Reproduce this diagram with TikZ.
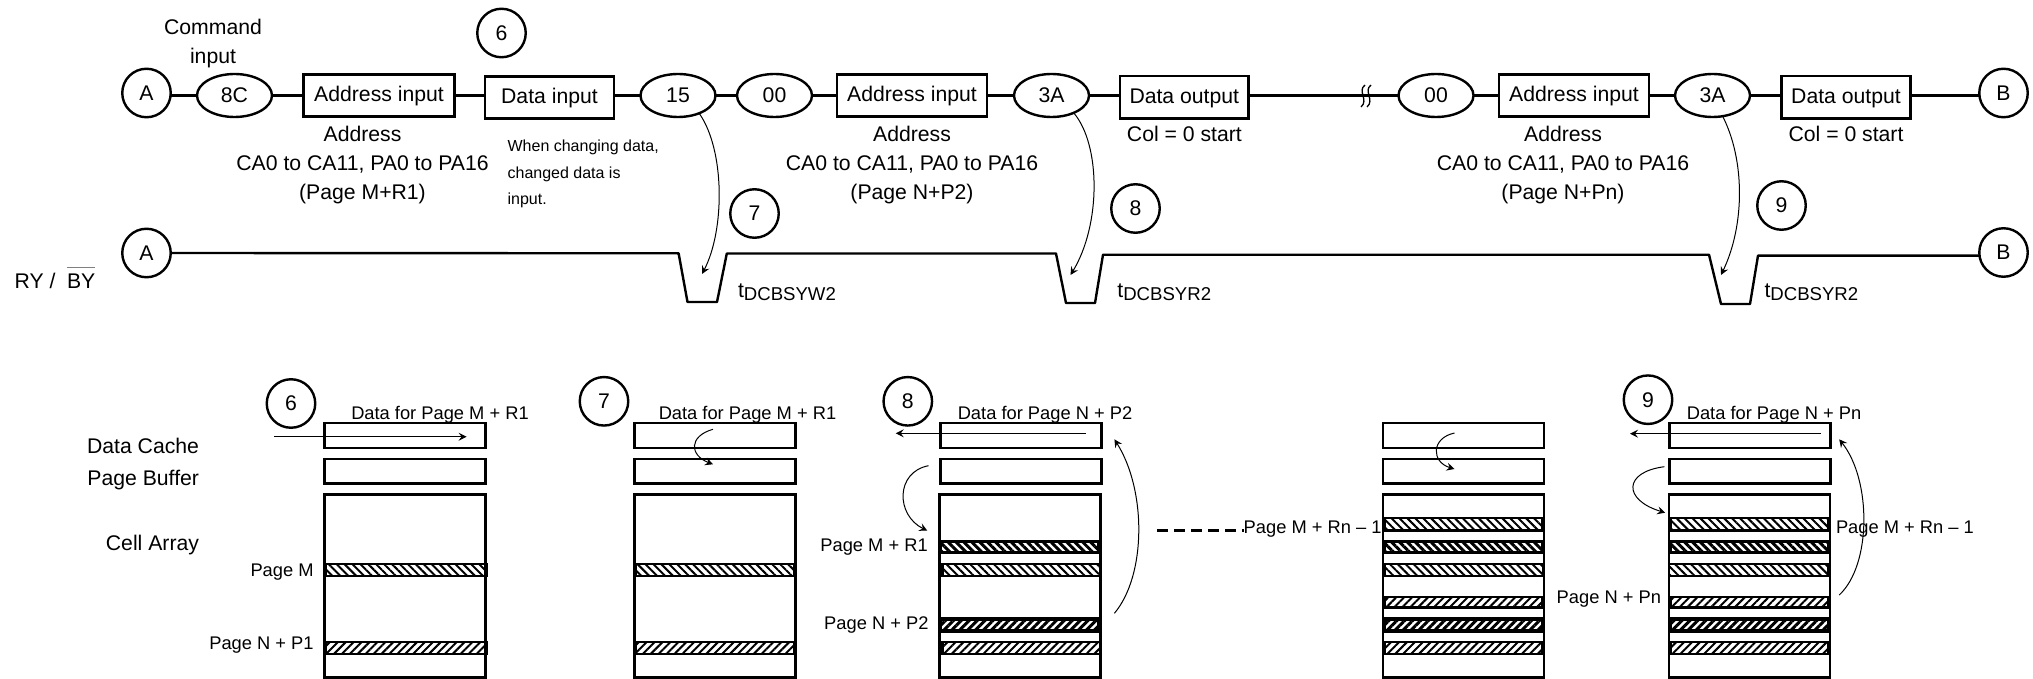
\documentclass[tikz,border=0pt]{standalone}
\usepackage{fontspec}
\setmainfont{Liberation Sans}
\usetikzlibrary{shapes.geometric,arrows.meta,patterns.meta}
\newcommand{\bigf}{\fontsize{21.2}{29}\selectfont}
\newcommand{\midf}{\fontsize{18.3}{22}\selectfont}
\newcommand{\smlf}{\fontsize{16}{26.5}\selectfont}
\newcommand{\subf}{\fontsize{18.6}{20}\selectfont}
\newcommand{\tlabel}[1]{t\raisebox{-3pt}{\subf #1}}
\tikzset{
  every node/.style={inner sep=0pt,outer sep=0pt,font=\bigf},
  mark circle/.style={draw,circle,line width=2.4pt,minimum size=48.5pt},
  cmd oval/.style={draw,ellipse,line width=2.4pt,minimum width=75pt,minimum height=43pt},
  cmd box/.style={draw,rectangle,line width=2.6pt,minimum height=42.5pt,text height=15.2pt,text depth=3pt},
  wire/.style={line width=2.6pt},
  wave/.style={line width=2.4pt,line join=round},
  thin arrow/.style={line width=1pt,-{Stealth[length=8pt,width=8pt,inset=3pt]}},
  mem box/.style={draw,rectangle,line width=2.6pt,minimum width=161pt},
  lightnw/.style={line width=2.6pt,pattern={Lines[angle=-45,distance=5.6pt,line width=2pt]}},
  lightne/.style={line width=2.6pt,pattern={Lines[angle=45,distance=5.6pt,line width=2pt]}},
  darknw/.style={line width=3.4pt,pattern={Lines[angle=-45,distance=5.6pt,line width=3pt]}},
  darkne/.style={line width=3.4pt,pattern={Lines[angle=45,distance=5.6pt,line width=3pt]}},
  side text/.style={font=\midf,anchor=base east},
}
\newcommand{\memcol}[3]{%
  \node[mem box,minimum height=25pt] (cache#1) at (#2,435.5) {};
  \node[mem box,minimum height=24.5pt] (buffer#1) at (#2,471.3) {};
  \node[mem box,minimum height=183.5pt] (cell#1) at (#3,586) {};
}
\newcommand{\stripe}[5]{\draw[#5] (#1+1.3,#3+1.3) rectangle (#2-1.3,#4-1.3);}
\begin{document}
\begin{tikzpicture}[x=1pt,y=-1pt]
\useasboundingbox (0,0) rectangle (2033,679);
% top row
\node[mark circle] (A1) at (146.5,93) {A};
\node[cmd oval] (c8C) at (234.5,95.5) {8C};
\node[cmd box,minimum width=150.5pt] (addr1) at (379,95.5) {Address input};
\node[cmd box,minimum width=129pt] (din) at (549.5,97.5) {Data input};
\node[cmd oval] (c15) at (678,95.5) {15};
\node[cmd oval] (c00a) at (774.5,95.5) {00};
\node[cmd box,minimum width=150pt] (addr2) at (912,95.5) {Address input};
\node[cmd oval] (c3Aa) at (1051.5,95.5) {3A};
\node[cmd box,minimum width=128.6pt] (dout1) at (1184.3,97.3) {Data output};
\node[cmd oval] (c00b) at (1436,95.5) {00};
\node[cmd box,minimum width=150pt] (addr3) at (1574,95.5) {Address input};
\node[cmd oval] (c3Ab) at (1712.5,95.5) {3A};
\node[cmd box,minimum width=129pt] (dout2) at (1846,97.3) {Data output};
\node[mark circle] (B1) at (2003.5,93) {B};
\node[mark circle] (n6a) at (501.5,33) {6};
\node[mark circle] (n7a) at (754.5,213.5) {7};
\node[mark circle] (n8a) at (1135.5,208.5) {8};
\node[mark circle] (n9a) at (1781.5,205.5) {9};
\node[align=center,anchor=north] (cmdlabel) at (213,19) {Command\\input};
\node[align=center] (alabel1) at (362.5,165.5) {Address\\CA0 to CA11, PA0 to PA16\\(Page M+R1)};
\node[align=center] (alabel2) at (912,165.5) {Address\\CA0 to CA11, PA0 to PA16\\(Page N+P2)};
\node[align=center] (alabel3) at (1563,165.5) {Address\\CA0 to CA11, PA0 to PA16\\(Page N+Pn)};
\node[font=\smlf,align=left,anchor=north west] (whenlabel) at (507.6,140) {When changing data,\\changed data is\\input.};
\node[anchor=base] (col1) at (1184.4,142) {Col = 0 start};
\node[anchor=base] (col2) at (1846,142) {Col = 0 start};
\draw[wire] (A1.east |- c8C.west) -- (c8C.west);
\draw[wire] (c8C.east) -- (addr1.west);
\draw[wire] (addr1.east) -- (addr1.east -| din.west);
\draw[wire] (din.west -| din.east) ++(0,-2) -- (c15.west);
\draw[wire] (c15.east) -- (c00a.west);
\draw[wire] (c00a.east) -- (addr2.west);
\draw[wire] (addr2.east) -- (c3Aa.west);
\draw[wire] (c3Aa.east) -- (c3Aa.east -| dout1.west);
\draw[wire] (c00b.west -| dout1.east) -- (c00b.west);
\draw[wire] (c00b.east) -- (addr3.west);
\draw[wire] (addr3.east) -- (c3Ab.west);
\draw[wire] (c3Ab.east) -- (c3Ab.east -| dout2.west);
\draw[wire] (c3Ab.east -| dout2.east) -- (c3Ab.east -| B1.west);
% break mark
\draw[line width=1.3pt] (1365,85) .. controls (1357,91) and (1369,100) .. (1361,107);
\draw[line width=1.3pt] (1371,85) .. controls (1363,91) and (1375,100) .. (1367,107);
% RY/BY row
\node[mark circle] (A2) at (146.5,253) {A};
\node[mark circle] (B2) at (2003.5,252.5) {B};
\node[anchor=base west] (rylabel) at (14.7,288.5) {RY /};
\node[anchor=base west] (bylabel) at (67,288.5) {BY};
\draw[line width=.7pt,gray] (67,267) -- (95,267);
\draw[wave] (A2.east) -- (678.6,253.3) -- (687.5,302) -- (717,302) -- (726.8,253.5) -- (1056,253.5)
  -- (1066,303) -- (1095,303) -- (1103,254.7) -- (1709,254.7) -- (1721,304) -- (1750,304)
  -- (1758,255.6) -- (B2.west |- 0,255.6);
\node[anchor=base west] (t1) at (738,297) {\tlabel{DCBSYW2}};
\node[anchor=base west] (t2) at (1117.4,297) {\tlabel{DCBSYR2}};
\node[anchor=base west] (t3) at (1764.5,297) {\tlabel{DCBSYR2}};
\coordinate (w1) at (702,274);
\coordinate (w2) at (1070.5,275);
\coordinate (w3) at (1721,275);
\draw[thin arrow] (c15.-40) .. controls (725,150) and (725,230) .. (w1);
\draw[thin arrow] (c3Aa.-38) .. controls (1101,145) and (1101,225) .. (w2);
\draw[thin arrow] (c3Ab.-64) .. controls (1745,160) and (1745,225) .. (w3);
% memory columns
\memcol{1}{405}{405}
\memcol{2}{715}{715}
\memcol{3}{1021}{1019.8}
\memcol{4}{1463.5}{1463.5}
\memcol{5}{1750.2}{1749.5}
% stripes
\stripe{324}{487.5}{562.7}{577.3}{lightnw}
\stripe{324}{487.5}{640.7}{655.3}{lightne}
\stripe{634.5}{795.7}{562.7}{577.3}{lightnw}
\stripe{634.5}{795.7}{640.7}{655.3}{lightne}
\stripe{939}{1099.5}{540}{554}{darknw}
\stripe{941}{1101.5}{562.7}{577.3}{lightnw}
\stripe{939}{1099.5}{617.7}{632.3}{darkne}
\stripe{941}{1101.5}{640.7}{655.3}{lightne}
\stripe{1383}{1544}{516.7}{531.7}{lightnw}
\stripe{1383}{1544}{540}{554}{darknw}
\stripe{1383}{1545}{562.7}{577.3}{lightnw}
\stripe{1383}{1544}{595.7}{609}{lightne}
\stripe{1383}{1544}{617.7}{632.3}{darkne}
\stripe{1383}{1544}{640.7}{655.3}{lightne}
\stripe{1669}{1830}{516.7}{531.7}{lightnw}
\stripe{1669}{1830}{540}{554}{darknw}
\stripe{1667.5}{1830}{562.7}{577.3}{lightnw}
\stripe{1669}{1830}{595.7}{609}{lightne}
\stripe{1669}{1830}{617.7}{632.3}{darkne}
\stripe{1669}{1830}{640.7}{655.3}{lightne}
% labels
\node[anchor=base east] (dc) at (199,453) {Data Cache};
\node[anchor=base east] (pb) at (199,485) {Page Buffer};
\node[anchor=base east] (ca) at (199,550) {Cell Array};
\node[side text] (pm) at (313.6,576.5) {Page M};
\node[side text] (pn1) at (313.6,649) {Page N + P1};
\node[side text] (pmr1) at (927.7,551.5) {Page M + R1};
\node[side text] (pnp2) at (928.5,629.5) {Page N + P2};
\node[side text] (pnpn) at (1661,603) {Page N + Pn};
\node[font=\midf,anchor=base west] (rn1) at (1243.7,533) {Page M + Rn -- 1};
\node[font=\midf,anchor=base west] (rn2) at (1836,533) {Page M + Rn -- 1};
\node[font=\midf,anchor=base] (d1) at (440,419) {Data for Page M + R1};
\node[font=\midf,anchor=base] (d2) at (747.5,419) {Data for Page M + R1};
\node[font=\midf,anchor=base] (d3) at (1045,419) {Data for Page N + P2};
\node[font=\midf,anchor=base] (d4) at (1774,419) {Data for Page N + Pn};
\node[mark circle] (n6b) at (291,403.5) {6};
\node[mark circle] (n7b) at (604,401.3) {7};
\node[mark circle] (n8b) at (907.8,401.3) {8};
\node[mark circle] (n9b) at (1648,399.7) {9};
% flow arrows
\coordinate (f1s) at (274,436.7); \coordinate (f1e) at (466.6,436.7);
\coordinate (f2s) at (713,429.3); \coordinate (f2e) at (713,464.3);
\coordinate (f3s) at (1086,433.3); \coordinate (f3e) at (895.7,433.3);
\coordinate (f4s) at (928.5,465.7); \coordinate (f4e) at (927.3,530.7);
\coordinate (f5s) at (1114.4,613.3); \coordinate (f5e) at (1114.4,439.3);
\coordinate (f6s) at (1454.5,433); \coordinate (f6e) at (1454.5,469);
\coordinate (f7s) at (1820.7,433.7); \coordinate (f7e) at (1630,433.7);
\coordinate (f8s) at (1664.4,466.7); \coordinate (f8e) at (1665.2,512.7);
\coordinate (f9s) at (1839.2,595); \coordinate (f9e) at (1839.2,439.3);
\draw[thin arrow] (f1s) -- (f1e);
\draw[thin arrow] (f2s) .. controls (689,436) and (689,455) .. (f2e);
\draw[thin arrow] (f3s) -- (f3e);
\draw[thin arrow] (f4s) .. controls (895.5,472) and (895.5,515) .. (f4e);
\draw[thin arrow] (f5s) .. controls (1146.5,575) and (1146.5,490) .. (f5e);
\draw[thin arrow] (f6s) .. controls (1431,438) and (1431,462) .. (f6e);
\draw[thin arrow] (f7s) -- (f7e);
\draw[thin arrow] (f8s) .. controls (1623,472) and (1623,500) .. (f8e);
\draw[thin arrow] (f9s) .. controls (1871.6,565) and (1871.6,480) .. (f9e);
\coordinate (dashs) at (1157,530.7);
\draw[line width=3pt,dash pattern=on 11pt off 6pt] (dashs) -- (dashs -| rn1.west);
\end{tikzpicture}
\end{document}
